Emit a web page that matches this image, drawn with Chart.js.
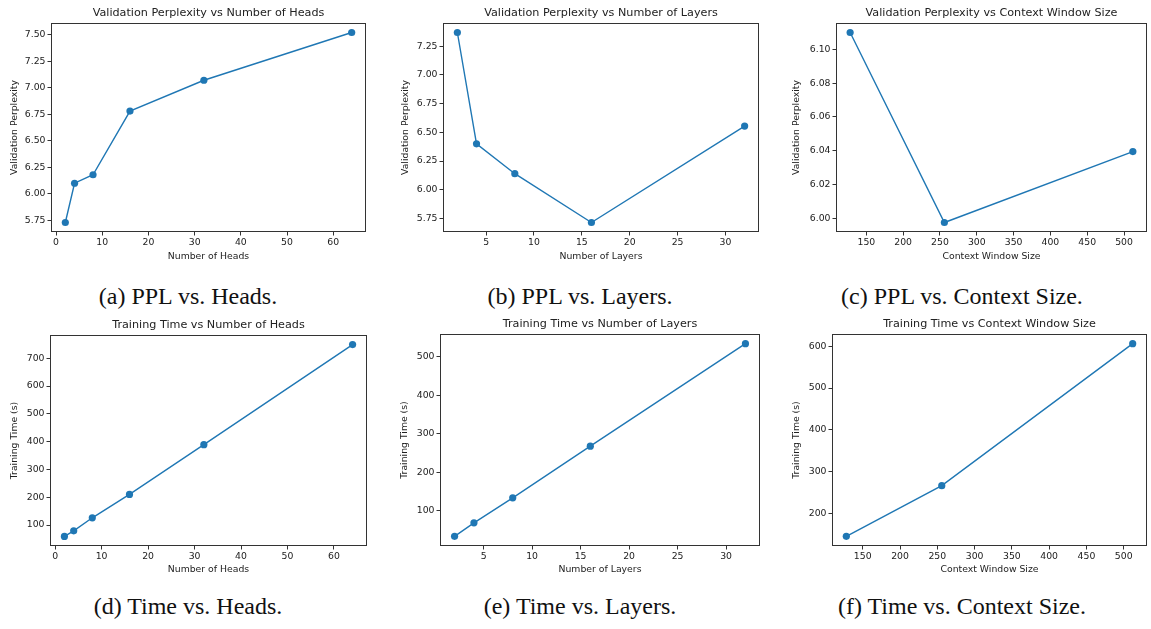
<!DOCTYPE html>
<html>
<head>
<meta charset="utf-8">
<script src="https://cdn.jsdelivr.net/npm/chart.js@4.4.1/dist/chart.umd.min.js"></script>
<style>
  html, body { margin: 0; padding: 0; background: #fff; }
  #wrap { position: relative; width: 1151px; height: 629px; overflow: hidden; }
  canvas { position: absolute; }
  .cap {
    position: absolute; width: 360px; margin-left: -180px; text-align: center;
    font-family: "Liberation Serif", "Times New Roman", serif; font-size: 24px;
    color: #111; line-height: 28px; white-space: nowrap;
  }
</style>
</head>
<body>
<div id="wrap"></div>
<script>
// x values
const headCounts = [2, 4, 8, 16, 32, 64];
const layerCounts = [2, 4, 8, 16, 32];
const contextSizes = [128, 256, 512];

// validation perplexity
const pplByHeads = [5.73, 6.10, 6.18, 6.78, 7.07, 7.52];
const pplByLayers = [7.37, 6.40, 6.14, 5.715, 6.555];
const pplByContext = [6.110, 5.9975, 6.0395];

// training time (s)
const timeByHeads = [59, 79, 126, 210, 389, 749];
const timeByLayers = [34, 69, 134, 268, 534];
const timeByContext = [146, 267, 606];

// tick labels
const headTicks = [0, 10, 20, 30, 40, 50, 60];
const layerTicks = [5, 10, 15, 20, 25, 30];
const contextTicks = [150, 200, 250, 300, 350, 400, 450, 500];
const pplHeadTicks = [5.75, 6.00, 6.25, 6.50, 6.75, 7.00, 7.25, 7.50];
const pplLayerTicks = [5.75, 6.00, 6.25, 6.50, 6.75, 7.00, 7.25];
const pplContextTicks = [6.00, 6.02, 6.04, 6.06, 6.08, 6.10];
const timeHeadTicks = [100, 200, 300, 400, 500, 600, 700];
const timeLayerTicks = [100, 200, 300, 400, 500];
const timeContextTicks = [200, 300, 400, 500, 600];

const captions = [
    '(a) PPL vs. Heads.', '(b) PPL vs. Layers.', '(c) PPL vs. Context Size.',
    '(d) Time vs. Heads.', '(e) Time vs. Layers.', '(f) Time vs. Context Size.'
];

const BLUE = '#1f77b4';
const INK = '#222';

// plot boxes in page pixels: [left, top, right, bottom]
const panels = [
    { title: 'Validation Perplexity vs Number of Heads', xLabel: 'Number of Heads', yLabel: 'Validation Perplexity',
      xs: headCounts, ys: pplByHeads, xTicks: headTicks, yTicks: pplHeadTicks, dec: 2,
      col: 0, row: 0, box: [51, 23, 366, 232], yTitleX: 15 },
    { title: 'Validation Perplexity vs Number of Layers', xLabel: 'Number of Layers', yLabel: 'Validation Perplexity',
      xs: layerCounts, ys: pplByLayers, xTicks: layerTicks, yTicks: pplLayerTicks, dec: 2,
      col: 1, row: 0, box: [443, 23, 759, 232], yTitleX: 21.5 },
    { title: 'Validation Perplexity vs Context Window Size', xLabel: 'Context Window Size', yLabel: 'Validation Perplexity',
      xs: contextSizes, ys: pplByContext, xTicks: contextTicks, yTicks: pplContextTicks, dec: 2,
      col: 2, row: 0, box: [836, 23, 1149, 232], yTitleX: 28.5 },
    { title: 'Training Time vs Number of Heads', xLabel: 'Number of Heads', yLabel: 'Training Time (s)',
      xs: headCounts, ys: timeByHeads, xTicks: headTicks, yTicks: timeHeadTicks, dec: 0,
      col: 0, row: 1, box: [50, 335, 367, 546], yTitleX: 15 },
    { title: 'Training Time vs Number of Layers', xLabel: 'Number of Layers', yLabel: 'Training Time (s)',
      xs: layerCounts, ys: timeByLayers, xTicks: layerTicks, yTicks: timeLayerTicks, dec: 0,
      col: 1, row: 1, box: [440, 334, 760, 546], yTitleX: 21 },
    { title: 'Training Time vs Context Window Size', xLabel: 'Context Window Size', yLabel: 'Training Time (s)',
      xs: contextSizes, ys: timeByContext, xTicks: contextTicks, yTicks: timeContextTicks, dec: 0,
      col: 2, row: 1, box: [832, 334, 1149, 546], yTitleX: 29 }
];

const rowTop = [0, 310];
const rowHeight = [270, 275];
const xTitleY = [256.7, 570];
const captionY = [296, 606];
const captionX = [188, 580, 962];

// matplotlib-like 5% margins
function padRange(vals) {
    const lo = Math.min(...vals), hi = Math.max(...vals);
    const m = (hi - lo) * 0.05;
    return [lo - m, hi + m];
}

const framePlugin = {
    id: 'frame',
    afterDraw(chart, args, opts) {
        const { ctx, chartArea: a } = chart;
        ctx.save();
        ctx.strokeStyle = '#333';
        ctx.lineWidth = 1;
        ctx.strokeRect(a.left + 0.5, a.top + 0.5, a.right - a.left - 1, a.bottom - a.top - 1);
        ctx.fillStyle = INK;
        ctx.font = '11.2px "DejaVu Sans"';
        ctx.textAlign = 'center';
        ctx.textBaseline = 'middle';
        ctx.fillText(opts.text, (a.left + a.right) / 2, a.top - 9.5);
        ctx.restore();
    }
};

const wrap = document.getElementById('wrap');

panels.forEach(function (p) {
    const cLeft = p.col * 384;
    const cWidth = p.col === 2 ? 1151 - cLeft : 384;
    const cTop = rowTop[p.row];
    const cHeight = rowHeight[p.row];
    const [L, T, R, B] = p.box;

    const canvas = document.createElement('canvas');
    canvas.width = cWidth;
    canvas.height = cHeight;
    canvas.style.left = cLeft + 'px';
    canvas.style.top = cTop + 'px';
    canvas.style.width = cWidth + 'px';
    canvas.style.height = cHeight + 'px';
    wrap.appendChild(canvas);

    const [xMin, xMax] = padRange(p.xs);
    const [yMin, yMax] = padRange(p.ys);
    const yAxisW = L - cLeft;
    const xAxisH = (cTop + cHeight) - B;
    const tickFont = { family: 'DejaVu Sans', size: 9.3 };
    const labelFont = { family: 'DejaVu Sans', size: 9.3, lineHeight: 1.2 };

    new Chart(canvas.getContext('2d'), {
        type: 'line',
        data: {
            datasets: [{
                data: p.xs.map((x, i) => ({ x: x, y: p.ys[i] })),
                borderColor: BLUE,
                backgroundColor: BLUE,
                borderWidth: 1.4,
                pointRadius: 3.6,
                pointBorderWidth: 0,
                pointBackgroundColor: BLUE,
                tension: 0,
                clip: false
            }]
        },
        options: {
            responsive: false,
            animation: false,
            devicePixelRatio: 1,
            events: [],
            layout: { padding: { top: T - cTop, right: (cLeft + cWidth) - R, left: 0, bottom: 0 } },
            plugins: {
                legend: { display: false },
                tooltip: { enabled: false },
                frame: { text: p.title }
            },
            scales: {
                x: {
                    type: 'linear',
                    min: xMin,
                    max: xMax,
                    afterBuildTicks: s => { s.ticks = p.xTicks.map(v => ({ value: v })); },
                    afterFit: s => { s.height = xAxisH; },
                    grid: { drawOnChartArea: false, drawTicks: true, tickLength: 3.5, color: '#333' },
                    border: { display: false },
                    ticks: { font: tickFont, color: INK, padding: 2, maxRotation: 0, autoSkip: false,
                             callback: v => String(v) },
                    title: { display: true, text: p.xLabel, font: labelFont, color: INK,
                             padding: { top: 0, bottom: (cTop + cHeight) - xTitleY[p.row] - 5.6 } }
                },
                y: {
                    type: 'linear',
                    min: yMin,
                    max: yMax,
                    afterBuildTicks: s => { s.ticks = p.yTicks.map(v => ({ value: v })); },
                    afterFit: s => { s.width = yAxisW; },
                    grid: { drawOnChartArea: false, drawTicks: true, tickLength: 3.5, color: '#333' },
                    border: { display: false },
                    ticks: { font: tickFont, color: INK, padding: 2, autoSkip: false,
                             callback: v => Number(v).toFixed(p.dec) },
                    title: { display: true, text: p.yLabel, font: labelFont, color: INK,
                             padding: { top: p.yTitleX - 5.6, bottom: 0 } }
                }
            }
        },
        plugins: [framePlugin]
    });
});

captions.forEach(function (text, i) {
    const d = document.createElement('div');
    d.className = 'cap';
    d.textContent = text;
    d.style.left = captionX[i % 3] + 'px';
    d.style.top = (captionY[Math.floor(i / 3)] - 14) + 'px';
    wrap.appendChild(d);
});
</script>
</body>
</html>
